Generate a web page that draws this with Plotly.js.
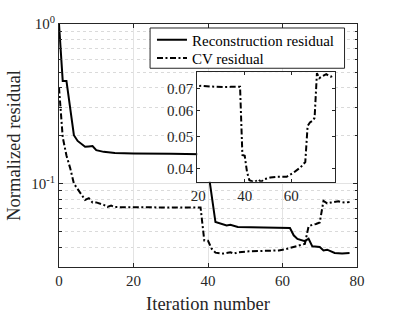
<!DOCTYPE html>
<html>
<head>
<meta charset="utf-8">
<script src="https://cdn.plot.ly/plotly-3.0.1.min.js"></script>
<style>html,body{margin:0;padding:0;background:#fff;}#chart{width:395px;height:314px;}</style>
</head>
<body>
<div id="chart"></div>
<script>
// Reconstruction residual (solid)
const reconIter = [0, 1, 2, 4, 5, 6, 7, 8, 9, 10, 12, 15, 20, 30, 38, 39, 40, 42, 44, 45, 46, 47, 48, 55, 62, 63, 64, 66, 67, 68, 69, 70, 71, 72, 74, 76, 78];
const reconResid = [1.0, 0.44, 0.44, 0.201, 0.185, 0.178, 0.170, 0.171, 0.172, 0.162, 0.158, 0.1556, 0.1543, 0.1535, 0.1527, 0.1127, 0.1224, 0.0574, 0.0555, 0.0547, 0.0552, 0.0545, 0.0535, 0.0530, 0.0526, 0.0474, 0.0450, 0.0436, 0.0451, 0.0404, 0.0402, 0.0400, 0.0381, 0.0385, 0.0367, 0.0365, 0.0367];

// CV residual (dash-dot)
const cvIter = [0, 1, 2, 3, 4, 5, 6, 7, 8, 9, 10, 11, 12, 13, 14, 15, 18, 20, 22, 25, 28, 31, 34, 38, 39, 40, 41, 42, 44, 46, 47, 48, 51, 54, 58, 59, 61, 64, 66, 67, 68, 69, 70, 71, 72, 73, 74, 75, 76, 77, 78];
const cvResid = [0.40, 0.195, 0.150, 0.125, 0.100, 0.093, 0.085, 0.079, 0.081, 0.076, 0.0762, 0.075, 0.0735, 0.0713, 0.0727, 0.0712, 0.0713, 0.0710, 0.0713, 0.0710, 0.0707, 0.0707, 0.0708, 0.0708, 0.0440, 0.0438, 0.0390, 0.0369, 0.0364, 0.0371, 0.0364, 0.0371, 0.0376, 0.0378, 0.0378, 0.0381, 0.0389, 0.0404, 0.0419, 0.0539, 0.0552, 0.0558, 0.0570, 0.0779, 0.0752, 0.0760, 0.0765, 0.0774, 0.0765, 0.0760, 0.0767];

const mainXTicks = [0, 20, 40, 60, 80];
const mainYTicks = [0.1, 1];
const mainYTickText = ['10<sup>-1</sup>', '10<sup>0</sup>'];
const mainYMinor = [0.03, 0.04, 0.05, 0.06, 0.07, 0.08, 0.09, 0.2, 0.3, 0.4, 0.5, 0.6, 0.7, 0.8, 0.9];
const insetXTicks = [20, 40, 60];
const insetYTicks = [0.04, 0.05, 0.06, 0.07];
const insetYTickText = ['0.04', '0.05', '0.06', '0.07'];

const FONT = 'Liberation Serif';
const AX = '#262626';
const DASHDOT = '6px,2.5px,2px,2.5px';

const traces = [
  {x: reconIter, y: reconResid, type: 'scatter', mode: 'lines', name: 'Reconstruction residual',
   line: {color: '#000', width: 2}, xaxis: 'x', yaxis: 'y', legend: 'legend'},
  {x: cvIter, y: cvResid, type: 'scatter', mode: 'lines', name: 'CV residual',
   line: {color: '#000', width: 2, dash: DASHDOT}, xaxis: 'x', yaxis: 'y', legend: 'legend2'},
  {x: cvIter, y: cvResid, type: 'scatter', mode: 'lines', name: 'CV residual (inset)', showlegend: false,
   line: {color: '#000', width: 2, dash: DASHDOT}, xaxis: 'x2', yaxis: 'y2'}
];

const legendCommon = {xanchor: 'left', yanchor: 'middle', bgcolor: 'rgba(0,0,0,0)', borderwidth: 0,
                      font: {family: FONT, size: 15, color: '#000'}};

const layout = {
  width: 395, height: 314,
  margin: {l: 58.7, r: 37.5, t: 24, b: 46.7},
  paper_bgcolor: '#fff', plot_bgcolor: '#fff',
  font: {family: FONT, color: AX, size: 15},
  showlegend: true,
  legend: Object.assign({x: 0.312, y: 0.9342}, legendCommon),
  legend2: Object.assign({x: 0.312, y: 0.859}, legendCommon),
  shapes: [{type: 'rect', xref: 'paper', yref: 'paper', x0: 0.3056, x1: 0.9582, y0: 0.8179, y1: 0.9836,
            fillcolor: '#fff', line: {color: AX, width: 1}, layer: 'above'}],
  xaxis: {domain: [0, 1], range: [0, 80], tickmode: 'array', tickvals: mainXTicks,
          showline: true, linecolor: AX, linewidth: 1, mirror: 'allticks',
          ticks: 'inside', ticklen: 4, tickcolor: AX, showgrid: true, gridcolor: '#e3e3e3', gridwidth: 1,
          zeroline: false, tickfont: {family: FONT, size: 15, color: AX},
          title: {text: 'Iteration number', font: {family: FONT, size: 18.5, color: AX}, standoff: 17}},
  yaxis: {domain: [0, 1], type: 'log', range: [Math.log10(0.03), 0], tickmode: 'array', tickvals: mainYTicks,
          ticktext: mainYTickText, showline: true, linecolor: AX, linewidth: 1, mirror: 'allticks',
          ticks: 'inside', ticklen: 4, tickcolor: AX, showgrid: true, gridcolor: '#e3e3e3',
          zeroline: false, tickfont: {family: FONT, size: 15, color: AX},
          minor: {tickmode: 'array', tickvals: mainYMinor, ticks: 'inside', ticklen: 2.5, tickcolor: AX,
                  showgrid: true, gridcolor: '#dadada', griddash: 'dot', gridwidth: 1},
          title: {text: 'Normalized residual', font: {family: FONT, size: 18.5, color: AX}, standoff: 5}},
  xaxis2: {domain: [0.4638, 0.9257], anchor: 'y2', range: [19.6, 78.7], tickmode: 'array', tickvals: insetXTicks,
           showline: true, linecolor: AX, linewidth: 1, mirror: 'allticks', ticks: 'inside', ticklen: 3,
           tickcolor: AX, showgrid: false, zeroline: false, tickfont: {family: FONT, size: 15, color: AX}},
  yaxis2: {domain: [0.3506, 0.8015], anchor: 'x2', type: 'log', range: [Math.log10(0.0365), Math.log10(0.0784)],
           tickmode: 'array', tickvals: insetYTicks, ticktext: insetYTickText,
           showline: true, linecolor: AX, linewidth: 1, mirror: 'allticks', ticks: 'inside', ticklen: 3,
           tickcolor: AX, showgrid: false, zeroline: false, tickfont: {family: FONT, size: 15, color: AX}}
};

Plotly.newPlot('chart', traces, layout, {staticPlot: true, displayModeBar: false});
</script>
</body>
</html>
